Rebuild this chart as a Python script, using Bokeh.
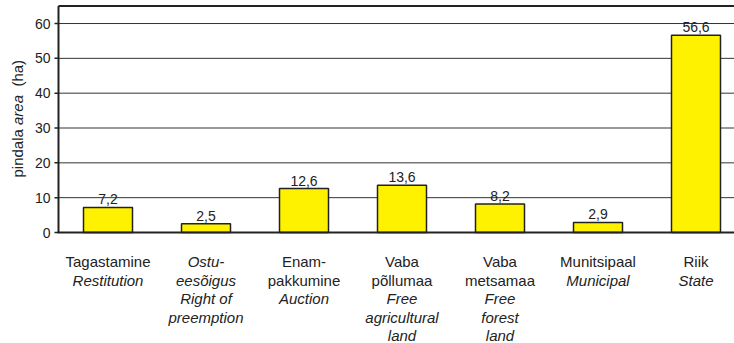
import math
from bokeh.plotting import figure
from bokeh.models import Range1d, ColumnDataSource
from bokeh.core.properties import value
from bokeh.embed import file_html
from bokeh.resources import INLINE

# ---- data ----
values = [7.2, 2.5, 12.6, 13.6, 8.2, 2.9, 56.6]
value_labels = ["7,2", "2,5", "12,6", "13,6", "8,2", "2,9", "56,6"]
cat_lines = [
    ["Tagastamine", "Restitution"],
    ["Ostu-", "eesõigus", "Right of", "preemption"],
    ["Enam-", "pakkumine", "Auction"],
    ["Vaba", "põllumaa", "Free", "agricultural", "land"],
    ["Vaba", "metsamaa", "Free", "forest", "land"],
    ["Munitsipaal", "Municipal"],
    ["Riik", "State"],
]
cat_styles = [
    ["normal", "italic"],
    ["italic", "italic", "italic", "italic"],
    ["normal", "normal", "italic"],
    ["normal", "normal", "italic", "italic", "italic"],
    ["normal", "normal", "italic", "italic", "italic"],
    ["normal", "italic"],
    ["normal", "italic"],
]
y_ticks = [0, 10, 20, 30, 40, 50, 60]
y_tick_labels = ["0", "10", "20", "30", "40", "50", "60"]
y_top = 65
y_label_parts = ["pindala", "area", "(ha)"]
y_label_styles = ["normal", "italic", "normal"]

# ---- layout (pixels) ----
W, H = 734, 343
PX_CAT = 98.0          # px per category
PX_Y = 3.483           # px per y unit
AX_X = 58              # canvas x of y axis
AX_Y = 232             # canvas y of x axis (from top)
C0 = 107.5             # canvas x of first category centre
FONT = "Liberation Sans"
TXT = "#222222"
LINE = "#222222"

X0 = -C0 / PX_CAT
X1 = (W - C0) / PX_CAT
Y0 = -(H - AX_Y) / PX_Y
Y1 = AX_Y / PX_Y
ax_x = (AX_X - C0) / PX_CAT


def dx(px):
    return px / PX_CAT


def dy(px):
    return px / PX_Y


p = figure(width=W, height=H, x_range=Range1d(X0, X1), y_range=Range1d(Y0, Y1),
           output_backend="svg", toolbar_location=None,
           x_axis_location=None, y_axis_location=None,
           min_border=0)
p.outline_line_color = None
p.grid.visible = False
p.background_fill_color = "white"
p.border_fill_color = "white"

n = len(y_ticks)
# grid lines
p.segment(x0=[ax_x] * (n - 1), x1=[X1] * (n - 1), y0=y_ticks[1:], y1=y_ticks[1:],
          line_color="#333333", line_width=1)
# top border
p.segment(x0=[ax_x], x1=[X1], y0=[y_top], y1=[y_top], line_color=LINE, line_width=2)
# y ticks
p.segment(x0=[ax_x - dx(4)] * n, x1=[ax_x] * n, y0=y_ticks, y1=y_ticks,
          line_color=LINE, line_width=1.5)
# y tick labels
p.text(x=[ax_x - dx(8)] * n, y=y_ticks, text=y_tick_labels,
       text_align="right", text_baseline="middle",
       text_font=value(FONT), text_font_size="14px", text_color=TXT)

# bars
xs = list(range(len(values)))
src = ColumnDataSource(dict(x=xs, top=values, label=value_labels,
                            ly=[v + dy(8) for v in values]))
p.vbar(x="x", top="top", bottom=0, width=0.5, source=src,
       fill_color="#FFF200", line_color=LINE, line_width=1.5)
p.text(x="x", y="ly", text="label", source=src,
       text_align="center", text_baseline="alphabetic",
       text_font=value(FONT), text_font_size="14px", text_color=TXT)

# axes lines
p.segment(x0=[ax_x], x1=[ax_x], y0=[0], y1=[y_top], line_color=LINE, line_width=2)
p.segment(x0=[ax_x - dx(1)], x1=[X1], y0=[0], y1=[0], line_color=LINE, line_width=2)

# category labels
cx, cy, ct, cs = [], [], [], []
for i, (lines, styles) in enumerate(zip(cat_lines, cat_styles)):
    for j, (t, s) in enumerate(zip(lines, styles)):
        cx.append(i)
        cy.append(-dy(29 + 18.5 * j))
        ct.append(t)
        cs.append(s)
p.text(x=cx, y=cy, text=ct, text_font_style=cs,
       text_align="center", text_baseline="alphabetic",
       text_font=value(FONT), text_font_size="15px", text_color=TXT)

# rotated y-axis label in parts
fs = 15
sp = 278 * fs / 1000
w_pindala = 3224 * fs / 1000
w_area = 2001 * fs / 1000
starts = [55, 55 + w_pindala + sp, 55 + w_pindala + sp + w_area + 2 * sp]
lx = ax_x - dx(41)
p.text(x=[lx] * 3, y=[dy(s) for s in starts], text=y_label_parts,
       text_font_style=y_label_styles, angle=math.pi / 2,
       text_align="left", text_baseline="middle",
       text_font=value(FONT), text_font_size=f"{fs}px", text_color=TXT)

open("out.html", "w").write(file_html(p, INLINE))
